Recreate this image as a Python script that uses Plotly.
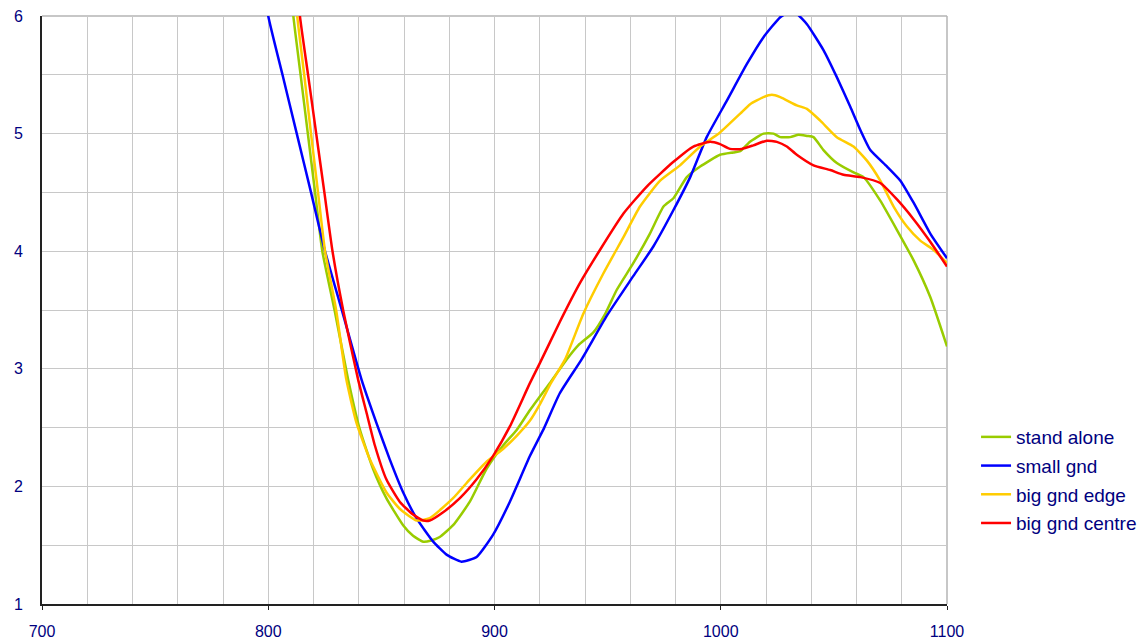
import plotly.graph_objects as go

# ---- data ----
series_names = ["stand alone", "small gnd", "big gnd edge", "big gnd centre"]
series_colors = ["#99CC00", "#0000FF", "#FFCC00", "#FF0000"]

stand_alone_x = [810.3, 811.1, 814.3, 817.5, 820.7, 823.9, 829.3, 835.3, 840.4, 846.3, 852.2, 859.6, 864.0,
                 868.5, 872.0, 875.8, 881.7, 889.1, 896.5, 903.9, 909.8, 915.7, 924.5, 931.9, 937.0, 943.7,
                 949.0, 954.0, 961.4, 968.7, 974.7, 979.1, 985.0, 990.9, 999.7, 1005.6, 1008.6,
                 1012.9, 1018.9, 1023.3, 1026.3, 1030.7, 1034.4, 1038.1, 1041.0, 1045.4, 1051.3, 1058.7,
                 1063.1, 1070.5, 1077.9, 1085.3, 1092.6, 1100.0]
stand_alone_y = [6.25, 6.0, 5.5, 5.0, 4.5, 4.0, 3.5, 2.91, 2.49, 2.15, 1.90, 1.67, 1.58,
                 1.53, 1.54, 1.57, 1.67, 1.87, 2.15, 2.35, 2.48, 2.65, 2.88, 3.08, 3.20, 3.31,
                 3.47, 3.67, 3.90, 4.15, 4.38, 4.45, 4.63, 4.72, 4.82, 4.84, 4.85,
                 4.93, 5.0, 5.0, 4.97, 4.97, 4.99, 4.98, 4.97, 4.86, 4.75, 4.67,
                 4.63, 4.43, 4.18, 3.92, 3.61, 3.19]

small_gnd_x = [798.5, 800.0, 806.3, 812.6, 818.9, 825.1, 832.5, 841.2, 847.8, 853.7, 859.6, 865.5, 872.9,
               878.8, 885.4, 892.1, 899.4, 906.8, 915.7, 922.0, 928.8, 938.5, 949.6, 961.4, 970.2, 979.1,
               986.5, 993.8, 1002.7, 1011.5, 1018.9, 1026.3, 1030.0, 1033.5, 1038.1, 1045.4, 1051.3,
               1057.2, 1061.7, 1066.1, 1073.5, 1079.4, 1085.3, 1092.6, 1100.0]
small_gnd_y = [6.25, 6.0, 5.5, 5.0, 4.5, 4.0, 3.5, 2.91, 2.54, 2.23, 1.95, 1.73, 1.53,
               1.42, 1.36, 1.40, 1.59, 1.87, 2.26, 2.5, 2.79, 3.08, 3.45, 3.79, 4.04, 4.35,
               4.63, 4.97, 5.28, 5.59, 5.82, 5.99, 6.03, 6.02, 5.93, 5.71, 5.48,
               5.23, 5.03, 4.86, 4.72, 4.60, 4.41, 4.15, 3.94]

big_edge_x = [811.9, 812.8, 815.9, 818.9, 822.0, 825.1, 830.0, 834.5, 839.0, 844.9, 852.2, 858.1, 865.5,
              871.4, 881.7, 889.1, 896.5, 903.9, 909.8, 915.7, 920.1, 925.0, 931.2, 939.3, 948.1, 957.0,
              964.3, 973.2, 982.0, 990.9, 999.7, 1008.6, 1013.0, 1018.9, 1022.6, 1026.3, 1033.6, 1038.1,
              1044.0, 1051.3, 1058.7, 1064.6, 1070.5, 1076.4, 1082.3, 1088.2, 1094.1, 1100.0]
big_edge_y = [6.3, 6.0, 5.5, 5.0, 4.5, 4.0, 3.5, 2.91, 2.54, 2.23, 1.95, 1.81, 1.71,
              1.73, 1.90, 2.06, 2.21, 2.32, 2.43, 2.56, 2.70, 2.88, 3.08, 3.47, 3.81, 4.12,
              4.38, 4.60, 4.73, 4.89, 5.01, 5.17, 5.25, 5.31, 5.33, 5.31, 5.24, 5.21,
              5.11, 4.97, 4.89, 4.77, 4.60, 4.38, 4.21, 4.09, 4.01, 3.90]

big_centre_x = [813.2, 814.0, 817.6, 821.2, 824.8, 828.4, 833.2, 839.7, 843.4, 847.1, 852.2, 858.1, 864.0,
                868.5, 871.4, 877.3, 884.7, 892.1, 899.4, 906.8, 915.7, 920.1, 928.9, 937.8, 946.6, 957.0,
                967.3, 979.1, 987.9, 995.3, 999.7, 1004.1, 1009.3, 1014.4, 1020.3, 1024.8, 1029.2,
                1033.6, 1041.0, 1048.4, 1054.3, 1061.7, 1070.5, 1077.9, 1085.3, 1092.6, 1100.0]
big_centre_y = [6.25, 6.0, 5.5, 5.0, 4.5, 4.0, 3.49, 2.91, 2.63, 2.35, 2.06, 1.87, 1.76,
                1.71, 1.71, 1.78, 1.90, 2.06, 2.26, 2.51, 2.88, 3.05, 3.40, 3.73, 4.01, 4.32,
                4.55, 4.76, 4.89, 4.93, 4.91, 4.87, 4.87, 4.90, 4.94, 4.93, 4.89,
                4.82, 4.73, 4.69, 4.65, 4.63, 4.58, 4.44, 4.27, 4.08, 3.87]

x_ticks = [700, 800, 900, 1000, 1100]
y_ticks = [1, 2, 3, 4, 5, 6]

xs = [stand_alone_x, small_gnd_x, big_edge_x, big_centre_x]
ys = [stand_alone_y, small_gnd_y, big_edge_y, big_centre_y]

TEXT = "#000080"
GRID = "#C8C8C8"
FONT = "Liberation Sans, Arial, sans-serif"

# the page body adds an 8px margin, so the figure is sized/margined to compensate
fig = go.Figure()
for name, color, x, y in zip(series_names, series_colors, xs, ys):
    fig.add_trace(go.Scatter(x=x, y=y, mode="lines", name=name, legendgroup=name,
                             line=dict(color=color, width=2.5, shape="spline", smoothing=0.5)))

# plot-area frame on top and right (light grey, like the grid)
fig.add_shape(type="line", xref="paper", yref="paper", x0=0, x1=1, y0=1, y1=1,
              line=dict(color="#B4B4B4", width=1.5), layer="below")
fig.add_shape(type="line", xref="paper", yref="paper", x0=1, x1=1, y0=0, y1=1,
              line=dict(color="#B4B4B4", width=1.5), layer="below")

fig.update_layout(
    width=1137, height=633,
    margin=dict(l=34, r=198, t=8, b=37),
    paper_bgcolor="white", plot_bgcolor="white",
    font=dict(family=FONT, color=TEXT, size=16),
    legend=dict(xref="container", yref="container",
                x=0.8514, xanchor="left", y=0.2543, yanchor="middle",
                font=dict(family=FONT, size=19, color=TEXT),
                tracegroupgap=1, traceorder="grouped",
                bgcolor="rgba(0,0,0,0)", borderwidth=0),
    showlegend=True,
)
fig.update_xaxes(range=[700, 1100], tickvals=x_ticks, ticktext=[str(v) for v in x_ticks],
                 showgrid=True, gridcolor=GRID, gridwidth=1,
                 minor=dict(dtick=20, tick0=700, showgrid=True, gridcolor=GRID, gridwidth=1),
                 showline=True, linecolor="#222222", linewidth=2,
                 ticks="outside", ticklen=4, tickcolor="#222222",
                 ticklabelstandoff=8, zeroline=False, automargin=False,
                 ticklabeloverflow="allow",
                 tickfont=dict(family=FONT, size=16, color=TEXT))
fig.update_yaxes(range=[1, 6], tickvals=y_ticks, ticktext=[str(v) for v in y_ticks],
                 showgrid=True, gridcolor=GRID, gridwidth=1,
                 minor=dict(dtick=0.5, tick0=1, showgrid=True, gridcolor=GRID, gridwidth=1),
                 showline=True, linecolor="#222222", linewidth=2,
                 ticks="", ticklabelstandoff=14, zeroline=False, automargin=False,
                 ticklabeloverflow="allow",
                 tickfont=dict(family=FONT, size=16, color=TEXT))

fig.write_html("out.html")
